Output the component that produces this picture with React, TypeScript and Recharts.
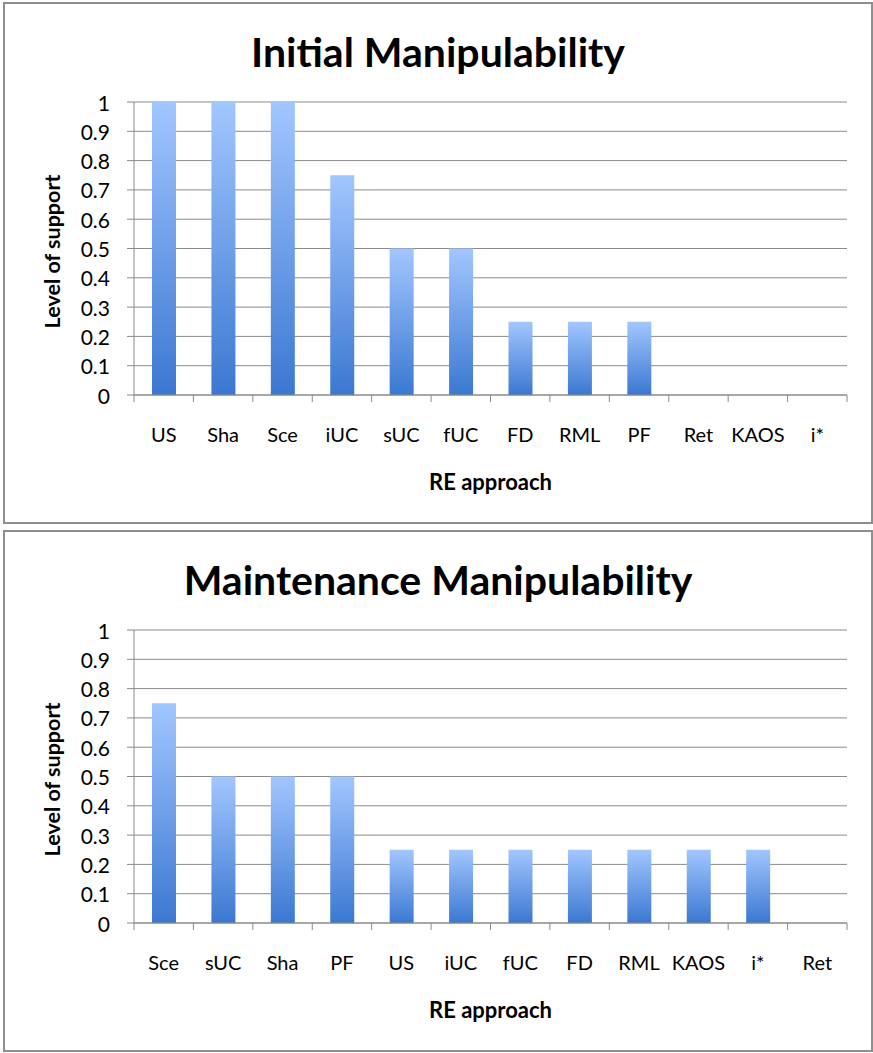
import { BarChart, Bar, XAxis, YAxis, CartesianGrid } from 'recharts'

const initialCategories = ['US', 'Sha', 'Sce', 'iUC', 'sUC', 'fUC', 'FD', 'RML', 'PF', 'Ret', 'KAOS', 'i*']
const initialValues = [1, 1, 1, 0.75, 0.5, 0.5, 0.25, 0.25, 0.25, 0, 0, 0]

const maintenanceCategories = ['Sce', 'sUC', 'Sha', 'PF', 'US', 'iUC', 'fUC', 'FD', 'RML', 'KAOS', 'i*', 'Ret']
const maintenanceValues = [0.75, 0.5, 0.5, 0.5, 0.25, 0.25, 0.25, 0.25, 0.25, 0.25, 0.25, 0]

const yTicks = [0, 0.1, 0.2, 0.3, 0.4, 0.5, 0.6, 0.7, 0.8, 0.9, 1]

const FONT = 'Lato, "Open Sans", sans-serif'
const GRID = '#8a8a8a'
const TICK_SIZE = 7
const TICK_MARGIN = 4

// eslint-disable-next-line @typescript-eslint/no-explicit-any
function CategoryTick(props: any) {
  const { x, y, payload, index, visibleTicksCount, width } = props
  const axisY = y - TICK_SIZE - TICK_MARGIN
  const half = payload.offset > 0 ? payload.offset : width / visibleTicksCount / 2
  return (
    <g>
      <line x1={x - half} x2={x - half} y1={axisY} y2={axisY + TICK_SIZE} stroke={GRID} />
      {index === visibleTicksCount - 1 && (
        <line x1={x + half} x2={x + half} y1={axisY} y2={axisY + TICK_SIZE} stroke={GRID} />
      )}
      <text x={x} y={axisY + 47} textAnchor="middle" fontFamily={FONT} fontSize={20} fill="#000">
        {payload.value}
      </text>
    </g>
  )
}

// eslint-disable-next-line @typescript-eslint/no-explicit-any
function ValueTick(props: any) {
  const { x, y, payload } = props
  return (
    <text x={x} y={y} textAnchor="end" dominantBaseline="central" fontFamily={FONT} fontSize={21} fill="#000">
      {payload.value}
    </text>
  )
}

// eslint-disable-next-line @typescript-eslint/no-explicit-any
function YTitle(props: any) {
  const vb = props.viewBox
  const cx = vb.x + 52
  const cy = vb.y + vb.height / 2 + 3
  return (
    <text
      x={cx}
      y={cy}
      transform={`rotate(-90 ${cx} ${cy})`}
      textAnchor="middle"
      dominantBaseline="central"
      fontFamily={FONT}
      fontWeight={700}
      fontSize={21.5}
      fill="#000"
    >
      Level of support
    </text>
  )
}

interface PanelProps {
  title: string
  categories: string[]
  values: number[]
  top: number
  id: string
}

function Panel({ title, categories, values, top, id }: PanelProps) {
  const data = categories.map((name, i) => ({ name, value: values[i] }))
  return (
    <>
      <div
        style={{
          position: 'absolute',
          left: 3,
          top: top + 2,
          width: 870,
          height: 522,
          border: '2px solid #8e8e8e',
          boxSizing: 'border-box',
        }}
      />
      <div
        style={{
          position: 'absolute',
          left: 3,
          width: 870,
          top: top + 27,
          height: 50,
          lineHeight: '50px',
          textAlign: 'center',
          fontFamily: FONT,
          fontWeight: 700,
          fontSize: 41,
          color: '#000',
        }}
      >
        {title}
      </div>
      <div style={{ position: 'absolute', left: 0, top }}>
        <BarChart width={873} height={525} data={data} margin={{ top: 102, right: 26, left: 0, bottom: 30 }}>
          <defs>
            <linearGradient id={`bar-${id}`} x1="0" y1="0" x2="0" y2="1">
              <stop offset="0%" stopColor="#a2c6ff" />
              <stop offset="100%" stopColor="#3b78d1" />
            </linearGradient>
          </defs>
          <CartesianGrid vertical={false} stroke={GRID} strokeWidth={1} />
          <XAxis
            dataKey="name"
            height={100}
            interval={0}
            axisLine={{ stroke: GRID }}
            tickLine={false}
            tickSize={TICK_SIZE}
            tickMargin={TICK_MARGIN}
            tick={<CategoryTick />}
            label={{
              value: 'RE approach',
              position: 'insideBottom',
              offset: 5,
              fontFamily: FONT,
              fontWeight: 700,
              fontSize: 22,
              fill: '#000',
            }}
          />
          <YAxis
            width={134}
            domain={[0, 1]}
            ticks={yTicks}
            interval={0}
            axisLine={{ stroke: GRID }}
            tickLine={{ stroke: GRID }}
            tickSize={TICK_SIZE}
            tickMargin={17}
            tick={<ValueTick />}
            label={{ content: <YTitle /> }}
          />
          <Bar dataKey="value" barSize={24} fill={`url(#bar-${id})`} isAnimationActive={false} />
        </BarChart>
      </div>
    </>
  )
}

export default function App() {
  return (
    <div style={{ position: 'absolute', left: 0, top: 0, width: 873, height: 1053, background: '#fff' }}>
      <Panel title="Initial Manipulability" categories={initialCategories} values={initialValues} top={0} id="a" />
      <Panel
        title="Maintenance Manipulability"
        categories={maintenanceCategories}
        values={maintenanceValues}
        top={528}
        id="b"
      />
    </div>
  )
}
